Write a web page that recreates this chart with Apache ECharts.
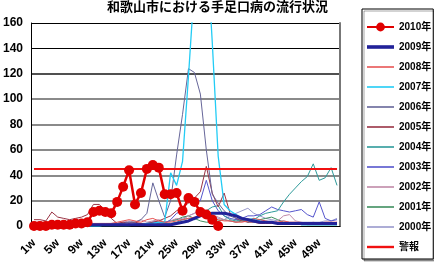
<!DOCTYPE html>
<html>
<head>
<meta charset="utf-8">
<script src="https://cdn.jsdelivr.net/npm/echarts@6/dist/echarts.min.js"></script>
<style>
html,body{margin:0;padding:0;background:#fff;}
#chart{width:434px;height:264px;}
</style>
</head>
<body>
<div id="chart"></div>
<script>
// ---- data ----
const weeks = Array.from({length: 52}, (_, i) => (i + 1) + 'w');
const yTicks = [0, 20, 40, 60, 80, 100, 120, 140, 160];

const y2010 = [0,0,0,1,1,1,1,2,2,3, 11,12,11,10,19,31,44,17,26,45, 48,46,25,25,26,12,22,19,11,9, 5,0,
  null,null,null,null,null,null,null,null,null,null,null,null,null,null,null,null,null,null,null,null];
const y2009 = [1,1,1,1,1,1,1,1,1,1, 1,1,1,1,1,1,1,1,1,1, 1,1,1,1,2,3,4,6,8,9, 10,10,10,9,8,6,5,4,3,3, 3,2,2,2,2,2,2,2,2,2,2,2];
const y2008 = [3,3,3,3,3,2,2,2,2,2, 2,2,2,2,3,4,5,4,3,5, 6,4,3,3,4,5,6,7,8,10, 6,5,4,4,3,3,4,6,5,4, 3,3,4,3,3,2,2,2,2,3,3,3];
const y2007 = [0,0,0,0,0,0,0,0,0,0, 0,0,1,1,1,1,1,1,1,2, 2,3,3,42,32,51,118,190,240,226, 145,55,17,12,9,6,5,6,4,3, 3,2,2,2,2,1,1,1,1,1,1,1];
const y2006 = [1,1,1,1,1,1,1,1,1,1, 1,1,1,2,2,2,3,3,5,10, 34,20,7,20,56,88,124,121,104,60, 25,18,12,8,6,5,4,3,3,3, 3,2,2,2,2,2,2,2,2,2,2,2];
const y2005 = [5,5,4,11,7,6,5,6,7,9, 17,17,12,6,2,3,2,3,2,2, 3,4,6,8,12,15,18,22,27,47, 26,15,26,10,6,4,3,3,2,2, 2,2,2,2,2,1,1,1,1,1,1,1];
const y2004 = [0,0,0,0,0,0,0,0,0,0, 0,0,0,0,0,0,0,1,1,1, 1,1,2,2,3,5,6,5,8,12, 15,16,8,5,4,5,3,5,8,10, 11,12,19,25,30,35,39,49,36,38,46,32];
const y2003 = [1,1,1,1,1,1,1,1,1,1, 1,1,1,1,1,2,3,2,2,2, 3,3,2,5,10,12,22,21,20,36, 20,12,8,6,5,6,8,8,9,12, 15,13,12,11,12,13,9,7,19,6,4,5];
const y2002 = [2,2,2,2,1,1,1,1,1,1, 2,2,2,2,2,3,4,3,5,3, 4,5,3,4,6,5,8,10,14,12, 9,7,5,4,3,5,6,4,3,3, 2,4,8,9,4,3,2,3,2,2,2,3];
const y2001 = [1,1,1,1,1,1,1,1,1,1, 1,1,1,1,1,1,1,1,1,1, 1,2,3,4,5,7,8,6,4,3, 3,4,5,4,3,4,5,4,5,6, 7,5,3,2,2,2,1,1,1,1,1,1];
const y2000 = [1,1,1,1,1,1,1,1,1,1, 1,2,2,2,2,3,3,2,2,2, 3,3,3,4,5,6,8,10,12,10, 8,6,5,8,10,12,14,10,8,6, 5,4,4,3,3,3,3,3,3,4,4,6];
const warn = [45,45,45,45,45,45,45,45,45,45, 45,45,45,45,45,45,45,45,45,45, 45,45,45,45,45,45,45,45,45,45, 45,45,45,45,45,45,45,45,45,45, 45,45,45,45,45,45,45,45,45,45,45,45];

const legendNames = ['2010年','2009年','2008年','2007年','2006年','2005年','2004年','2003年','2002年','2001年','2000年','警報'];

// ---- chart ----
const chart = echarts.init(document.getElementById('chart'), null, {renderer: 'canvas'});
function thin(name, data, color, width) {
  return {name, type: 'line', data, symbol: 'none', showSymbol: false,
    lineStyle: {color, width: width || 1}, itemStyle: {color}, emphasis: {disabled: true}, animation: false};
}
const series = [
  thin('2000年', y2000, '#9999CC'),
  thin('2001年', y2001, '#3F8F5F'),
  thin('2002年', y2002, '#C08AA8'),
  thin('2003年', y2003, '#5555CC'),
  thin('2004年', y2004, '#2E9A9A'),
  thin('2005年', y2005, '#993344'),
  thin('2006年', y2006, '#666699'),
  thin('2007年', y2007, '#22CCF5', 1.3),
  thin('2008年', y2008, '#E85555'),
  thin('2009年', y2009, '#222299', 3),
  thin('警報', warn, '#F01010', 2),
  {name: '2010年', type: 'line', data: y2010, symbol: 'circle', symbolSize: 10, showAllSymbol: true,
   lineStyle: {color: '#E00000', width: 2.5}, itemStyle: {color: '#E00000'}, emphasis: {disabled: true}, animation: false}
];

const thinIcon = 'path://M0,0L27,0L27,1.6L0,1.6Z';
const thickIcon = 'path://M0,0L27,0L27,3.6L0,3.6Z';
const midIcon = 'path://M0,0L27,0L27,2.4L0,2.4Z';
const legendData = legendNames.map(n => {
  if (n === '2010年') return {name: n};
  if (n === '2009年') return {name: n, icon: thickIcon};
  if (n === '警報') return {name: n, icon: midIcon};
  return {name: n, icon: thinIcon};
});

const grayLines = yTicks.map(v => v === 0 ? 'rgba(0,0,0,0)' : (v >= 140 ? 'rgba(0,0,0,0)' : (v === 120 ? '#505050' : '#8a8a8a')));
const blackLines = yTicks.map(v => v >= 140 ? '#000' : 'rgba(0,0,0,0)');

chart.setOption({
  animation: false,
  backgroundColor: '#fff',
  title: {
    text: '和歌山市における手足口病の流行状況',
    left: 107, top: 0, padding: 0,
    textStyle: {fontFamily: 'Noto Sans CJK JP', fontWeight: 'bold', fontSize: 13, color: '#000'}
  },
  legend: {
    data: legendData,
    orient: 'vertical',
    left: 362, top: 9,
    padding: [13, 2, 7, 4],
    itemGap: 10, itemWidth: 27, itemHeight: 11,
    borderColor: '#000', borderWidth: 1, backgroundColor: '#fff',
    shadowColor: 'rgba(0,0,0,0.35)', shadowOffsetX: 2, shadowOffsetY: 2, shadowBlur: 0,
    textStyle: {fontFamily: 'Liberation Sans, Noto Sans CJK JP', fontWeight: 'bold', fontSize: 10, color: '#000'},
    selectedMode: false
  },
  grid: {left: 30, right: 94, top: 23, bottom: 38, containLabel: false},
  xAxis: {
    type: 'category', data: weeks, boundaryGap: true,
    axisLine: {show: true, lineStyle: {color: '#000', width: 1}},
    axisTick: {show: false},
    axisLabel: {interval: 3, rotate: 45, margin: 15, color: '#000', fontFamily: 'Liberation Sans', fontWeight: 'bold', fontSize: 12},
    splitLine: {show: false}
  },
  yAxis: [{
    type: 'value', min: 0, max: 160, interval: 20,
    axisLine: {show: true, lineStyle: {color: '#000', width: 1}},
    axisTick: {show: false},
    axisLabel: {margin: 8, color: '#000', fontFamily: 'Liberation Sans', fontWeight: 'bold', fontSize: 12},
    splitLine: {show: true, lineStyle: {color: grayLines, width: 2}}
  }, {
    type: 'value', min: 0, max: 160, interval: 20, position: 'right',
    axisLine: {show: true, lineStyle: {color: '#777', width: 2}},
    axisTick: {show: false},
    axisLabel: {show: false},
    splitLine: {show: true, lineStyle: {color: blackLines, width: 1}}
  }],
  series: series
});
</script>
</body>
</html>
